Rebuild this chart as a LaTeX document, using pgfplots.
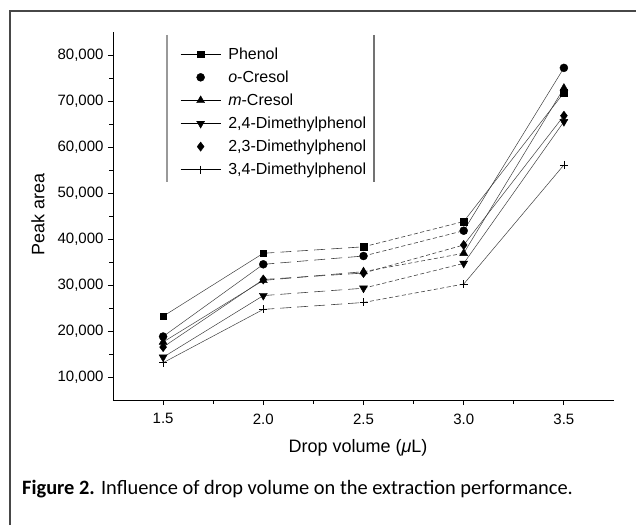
\documentclass[border=0pt]{standalone}
\usepackage{fontspec}
\setmainfont{Liberation Sans}
\newfontfamily\capfont{Carlito}
\usepackage{pgfplots}
\usepackage{pgfplotstable}
\pgfplotsset{compat=1.18}

\pgfplotstableread{
x   phenol ocresol mcresol dmpa  dmpb  dmpc
1.5 23200  18800   17600   14300 16500 13100
2.0 36900  34500   31000   27700 31200 24700
2.5 38300  36300   32900   29300 32600 26200
3.0 43800  41800   36900   34700 38700 30200
3.5 71800  77200   72800   65500 66800 56100
}\data

\definecolor{linegray}{gray}{0.25}

\begin{document}
\begin{tikzpicture}
\path[use as bounding box] (-113pt,-125pt) rectangle (523pt,400pt);
\draw[line width=2.4pt, black!72] (-103pt,-125pt) -- (-103pt,389pt) -- (523pt,389pt);

\begin{axis}[
  at={(0pt,0pt)}, anchor=origin,
  scale only axis, width=501pt, height=368pt,
  xmin=1.25, xmax=3.75, ymin=5000, ymax=85000,
  axis x line*=bottom, axis y line*=left,
  axis line style={line width=0.9pt, black},
  xtick={1.5,2.0,2.5,3.0,3.5},
  xticklabels={1.5,2.0,2.5,3.0,3.5},
  ytick={10000,20000,30000,40000,50000,60000,70000,80000},
  scaled y ticks=false,
  minor x tick num=1, minor y tick num=1,
  tick align=outside,
  major tick length=5pt, minor tick length=3.5pt,
  every tick/.style={black, line width=0.9pt},
  tick label style={font=\fontsize{15}{17}\selectfont},
  xticklabel style={yshift=-5pt},
  yticklabel style={xshift=-1pt},
  /pgf/number format/assume math mode=true,
  yticklabel style={/pgf/number format/fixed, /pgf/number format/1000 sep={,}},
  xlabel={Drop volume ({\itshape μ}L)},
  ylabel={Peak area},
  label style={font=\fontsize{18}{20}\selectfont},
  xlabel style={at={(axis description cs:0.489,-0.130)}, anchor=center},
  ylabel style={at={(axis description cs:-0.150,0.503)}, anchor=center},
  clip=false,
  legend style={at={(axis description cs:0.134,0.962)}, anchor=north west,
    draw=none, fill=none, font=\fontsize{16}{18}\selectfont,
    row sep=7pt, inner sep=0pt, nodes={inner sep=1.5pt}},
  legend cell align=left,
  segA/.style={linegray, line width=0.5pt, solid, no markers},
  segB/.style={linegray, line width=0.6pt, dash pattern=on 11pt off 6pt, no markers},
  segC/.style={linegray, line width=0.6pt, dash pattern=on 4pt off 2.5pt, no markers},
  segD/.style={linegray, line width=0.5pt, solid, no markers},
  mk/.style={only marks, black, mark options={fill=black, solid}},
  linelegend/.style={legend image code/.code={
      \draw[solid, line width=0.6pt, black] (0pt,0pt) -- (40pt,0pt);
      \path (46pt,0pt);
      \draw[only marks, ##1] plot coordinates {(20pt,0pt)};}},
  marklegend/.style={legend image code/.code={
      \path (0pt,0pt) (46pt,0pt);
      \draw[only marks, ##1] plot coordinates {(20pt,0pt)};}},
]
\pgfplotsinvokeforeach{phenol,ocresol,mcresol,dmpa,dmpb,dmpc}{
  \addplot[segA, forget plot, restrict x to domain=1.4:2.1] table[x=x,y=#1]{\data};
  \addplot[segB, forget plot, restrict x to domain=1.9:2.6] table[x=x,y=#1]{\data};
  \addplot[segC, forget plot, restrict x to domain=2.4:3.1] table[x=x,y=#1]{\data};
  \addplot[segD, forget plot, restrict x to domain=2.9:3.6] table[x=x,y=#1]{\data};
}
\addplot[mk, linelegend, mark=square*, mark size=3.3pt] table[x=x,y=phenol]{\data};
\addlegendentry{Phenol}
\addplot[mk, marklegend, mark=*, mark size=4pt] table[x=x,y=ocresol]{\data};
\addlegendentry{{\itshape o}-Cresol}
\addplot[mk, linelegend, mark=triangle*, mark size=4.6pt] table[x=x,y=mcresol]{\data};
\addlegendentry{{\itshape m}-Cresol}
\addplot[mk, linelegend, mark=triangle*, mark size=4.6pt, mark options={rotate=180, fill=black}] table[x=x,y=dmpa]{\data};
\addlegendentry{2,4-Dimethylphenol}
\addplot[mk, marklegend, mark=diamond*, mark size=4.6pt] table[x=x,y=dmpb]{\data};
\addlegendentry{2,3-Dimethylphenol}
\addplot[mk, linelegend, mark=+, mark size=4pt, mark options={line width=0.7pt}] table[x=x,y=dmpc]{\data};
\addlegendentry{3,4-Dimethylphenol}

\draw[black!40, line width=1.3pt] (axis description cs:0.1078,0.992) -- (axis description cs:0.1078,0.592);
\draw[black!55, line width=1.1pt] (axis description cs:0.521,0.992) -- (axis description cs:0.521,0.592);
\end{axis}

\node[anchor=west, inner sep=0pt] at (-91pt,-89pt)
  {\capfont\fontsize{20.4}{23}\selectfont\textbf{Figure 2.} Influence of drop volume on the extraction performance.};
\end{tikzpicture}
\end{document}
